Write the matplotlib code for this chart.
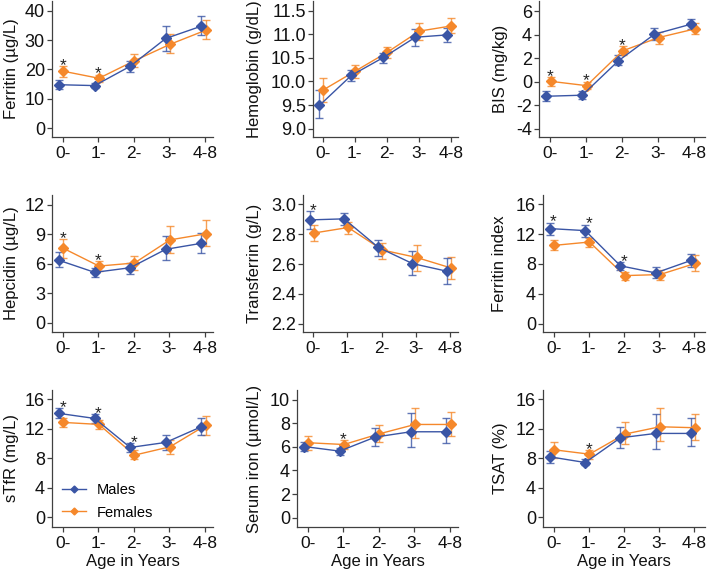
import matplotlib
matplotlib.use("Agg")
import matplotlib.pyplot as plt
from matplotlib.lines import Line2D
import numpy as np

plt.rcParams['font.family'] = ['Liberation Sans', 'DejaVu Sans']

ages = ["0-", "1-", "2-", "3-", "4-8"]
series_names = ["Males", "Females"]

# Ferritin (ug/L)
ferritin_m = [14.8, 14.5, 21.1, 30.6, 34.8]
ferritin_m_lo = [13.4, 13.7, 19.3, 26.4, 31.7]
ferritin_m_hi = [16.5, 15.5, 22.8, 34.7, 38.2]
ferritin_f = [19.4, 17.0, 23.0, 28.6, 33.4]
ferritin_f_lo = [17.6, 15.8, 20.7, 25.5, 30.3]
ferritin_f_hi = [21.1, 18.2, 25.3, 32.1, 36.9]
ferritin_sig = [0, 1]

# Hemoglobin (g/dL)
hb_m = [9.49, 10.13, 10.51, 10.94, 10.99]
hb_m_lo = [9.23, 10.01, 10.40, 10.75, 10.84]
hb_m_hi = [9.81, 10.25, 10.61, 11.11, 11.13]
hb_f = [9.82, 10.22, 10.62, 11.07, 11.18]
hb_f_lo = [9.57, 10.08, 10.50, 10.89, 11.02]
hb_f_hi = [10.08, 10.35, 10.73, 11.25, 11.35]
hb_sig = []

# BIS (mg/kg)
bis_m = [-1.24, -1.15, 1.77, 4.03, 4.87]
bis_m_lo = [-1.61, -1.49, 1.41, 3.52, 4.51]
bis_m_hi = [-0.82, -0.76, 2.25, 4.54, 5.32]
bis_f = [0.03, -0.34, 2.62, 3.75, 4.48]
bis_f_lo = [-0.37, -0.65, 2.25, 3.24, 4.03]
bis_f_hi = [0.37, 0.0, 2.99, 4.25, 4.96]
bis_sig = [0, 1, 2]

# Hepcidin (ug/L)
hep_m = [6.36, 5.14, 5.61, 7.48, 8.09]
hep_m_lo = [5.64, 4.69, 4.97, 6.39, 7.14]
hep_m_hi = [7.24, 5.55, 6.09, 8.84, 9.11]
hep_f = [7.58, 5.78, 6.09, 8.44, 9.05]
hep_f_lo = [6.63, 5.27, 5.37, 7.07, 7.82]
hep_f_hi = [8.50, 6.29, 6.84, 9.90, 10.44]
hep_sig = [0, 1]

# Transferrin (g/L)
tf_m = [2.896, 2.903, 2.712, 2.603, 2.552]
tf_m_lo = [2.838, 2.860, 2.657, 2.527, 2.466]
tf_m_hi = [2.955, 2.941, 2.763, 2.684, 2.639]
tf_f = [2.808, 2.845, 2.694, 2.644, 2.574]
tf_f_lo = [2.752, 2.804, 2.635, 2.554, 2.500]
tf_f_hi = [2.860, 2.881, 2.743, 2.730, 2.646]
tf_sig = [0]

# Ferritin index
fi_m = [12.75, 12.48, 7.75, 6.80, 8.47]
fi_m_lo = [11.85, 11.63, 7.21, 6.13, 7.66]
fi_m_hi = [13.56, 13.29, 8.25, 7.57, 9.28]
fi_f = [10.50, 10.95, 6.44, 6.58, 8.07]
fi_f_lo = [9.91, 10.27, 5.86, 5.86, 7.12]
fi_f_hi = [11.18, 11.54, 6.98, 7.21, 9.15]
fi_sig = [0, 1, 2]

# sTfR (mg/L)
stfr_m = [14.07, 13.39, 9.46, 10.14, 12.26]
stfr_m_lo = [13.39, 12.81, 8.87, 9.10, 11.13]
stfr_m_hi = [14.75, 13.98, 10.0, 11.13, 13.48]
stfr_f = [12.85, 12.58, 8.42, 9.55, 12.44]
stfr_f_lo = [12.26, 11.95, 7.83, 8.55, 11.13]
stfr_f_hi = [13.48, 13.17, 9.05, 10.45, 13.76]
stfr_sig = [0, 1, 2]

# Serum iron (umol/L)
fe_m = [6.03, 5.64, 6.83, 7.28, 7.28]
fe_m_lo = [5.64, 5.30, 6.06, 6.00, 6.29]
fe_m_hi = [6.43, 5.92, 7.62, 8.84, 8.41]
fe_f = [6.35, 6.20, 7.11, 7.90, 7.90]
fe_f_lo = [5.72, 5.81, 6.43, 6.71, 6.91]
fe_f_hi = [6.94, 6.57, 7.85, 9.26, 8.98]
fe_sig = [1]

# TSAT (%)
tsat_m = [8.19, 7.42, 10.77, 11.36, 11.36]
tsat_m_lo = [7.42, 7.06, 9.32, 9.23, 9.68]
tsat_m_hi = [8.96, 7.87, 12.26, 13.98, 13.39]
tsat_f = [9.14, 8.55, 11.27, 12.26, 12.13]
tsat_f_lo = [8.10, 7.96, 9.91, 10.36, 10.45]
tsat_f_hi = [10.14, 9.10, 12.85, 14.75, 13.94]
tsat_sig = [1]

panels = [
    ("Ferritin (\u00b5g/L)", ferritin_m, ferritin_m_lo, ferritin_m_hi, ferritin_f, ferritin_f_lo, ferritin_f_hi, ferritin_sig,
     (-3.06, 43.4), [0, 10, 20, 30, 40], "{:.0f}"),
    ("Hemoglobin (g/dL)", hb_m, hb_m_lo, hb_m_hi, hb_f, hb_f_lo, hb_f_hi, hb_sig,
     (8.82, 11.71), [9.0, 9.5, 10.0, 10.5, 11.0, 11.5], "{:.1f}"),
    ("BIS (mg/kg)", bis_m, bis_m_lo, bis_m_hi, bis_f, bis_f_lo, bis_f_hi, bis_sig,
     (-4.70, 6.85), [-4, -2, 0, 2, 4, 6], "{:.0f}"),
    ("Hepcidin (\u00b5g/L)", hep_m, hep_m_lo, hep_m_hi, hep_f, hep_f_lo, hep_f_hi, hep_sig,
     (-0.92, 13.0), [0, 3, 6, 9, 12], "{:.0f}"),
    ("Transferrin (g/L)", tf_m, tf_m_lo, tf_m_hi, tf_f, tf_f_lo, tf_f_hi, tf_sig,
     (2.144, 3.063), [2.2, 2.4, 2.6, 2.8, 3.0], "{:.1f}"),
    ("Ferritin index", fi_m, fi_m_lo, fi_m_hi, fi_f, fi_f_lo, fi_f_hi, fi_sig,
     (-1.13, 17.26), [0, 4, 8, 12, 16], "{:.0f}"),
    ("sTfR (mg/L)", stfr_m, stfr_m_lo, stfr_m_hi, stfr_f, stfr_f_lo, stfr_f_hi, stfr_sig,
     (-1.31, 17.24), [0, 4, 8, 12, 16], "{:.0f}"),
    ("Serum iron (\u00b5mol/L)", fe_m, fe_m_lo, fe_m_hi, fe_f, fe_f_lo, fe_f_hi, fe_sig,
     (-0.79, 10.82), [0, 2, 4, 6, 8, 10], "{:.0f}"),
    ("TSAT (%)", tsat_m, tsat_m_lo, tsat_m_hi, tsat_f, tsat_f_lo, tsat_f_hi, tsat_sig,
     (-1.31, 17.24), [0, 4, 8, 12, 16], "{:.0f}"),
]

# panel boxes in pixels: left, top, right, bottom
boxes = [
    (52, 1, 213, 137), (313, 1, 458, 137), (539, 1, 705, 137),
    (52, 195, 213, 332), (303, 195, 458, 332), (543, 195, 705, 332),
    (52, 390, 213, 527), (297, 390, 458, 527), (543, 390, 705, 527),
]
# y-label centre x (pixels) per column, and right x-limit per column
label_cx = [11, 255, 500]
xright = [4.23, 4.23, 4.3]

W, H = 709, 576
fig = plt.figure(figsize=(W / 100, H / 100), dpi=100)

BLUE = "#3a55a5"
ORANGE = "#f5882b"
AXC = "#404040"
x = np.arange(len(ages))
dm, df = -0.1, 0.02

for i, (lab, m, mlo, mhi, f, flo, fhi, sig, ylim, yt, fmt) in enumerate(panels):
    l, t, r, b = boxes[i]
    ax = fig.add_axes([l / W, 1 - b / H, (r - l) / W, (b - t) / H])
    m, mlo, mhi = map(np.array, (m, mlo, mhi))
    f, flo, fhi = map(np.array, (f, flo, fhi))
    for (v, lo, hi, c, d) in [(f, flo, fhi, ORANGE, df), (m, mlo, mhi, BLUE, dm)]:
        ax.errorbar(x + d, v, yerr=[v - lo, hi - v], fmt='none', ecolor=c, alpha=0.8,
                    elinewidth=1.0, capsize=2.6, capthick=1.0, zorder=2)
    ax.plot(x + df, f, color=ORANGE, lw=1.0, marker='D', ms=5, zorder=3)
    ax.plot(x + dm, m, color=BLUE, lw=1.0, marker='D', ms=5, zorder=4)
    for s in sig:
        top = max(mhi[s], fhi[s])
        ax.annotate('*', (x[s], top), xytext=(0, 0.5), textcoords='offset points',
                    ha='center', va='center', fontsize=12.5, color='#222222')
    ax.set_xlim(-0.3, xright[i % 3])
    ax.set_ylim(*ylim)
    ax.set_yticks(yt)
    ax.set_yticklabels([fmt.format(v) for v in yt])
    ax.set_xticks(x)
    ax.set_xticklabels(ages)
    for sp in ['top', 'right']:
        ax.spines[sp].set_visible(False)
    for sp in ['left', 'bottom']:
        ax.spines[sp].set_color(AXC)
        ax.spines[sp].set_linewidth(0.9)
    ax.tick_params(axis='both', colors=AXC, length=3.6, width=0.9, labelsize=13,
                   labelcolor='#111111')
    ax.tick_params(axis='y', pad=1.5)
    ax.tick_params(axis='x', pad=3.2, labelsize=12.5)
    ax.set_ylabel(lab, fontsize=12, color='#111111')
    ax.yaxis.label.set_verticalalignment('center')
    ax.yaxis.set_label_coords((label_cx[i % 3] - l) / (r - l), 0.5)
    if i >= 6:
        ax.set_xlabel("Age in Years", fontsize=12, color='#111111', labelpad=1.5)
    if i == 6:
        handles = [Line2D([], [], color=BLUE, lw=1.0, marker='D', ms=3.5),
                   Line2D([], [], color=ORANGE, lw=1.0, marker='D', ms=3.5)]
        ax.legend(handles, series_names, loc='lower left', bbox_to_anchor=(0.0, -0.02),
                  frameon=False, fontsize=10.5, handlelength=1.6, handletextpad=0.8,
                  labelspacing=0.6, borderaxespad=0.3)

fig.savefig("out.png", dpi=100)
